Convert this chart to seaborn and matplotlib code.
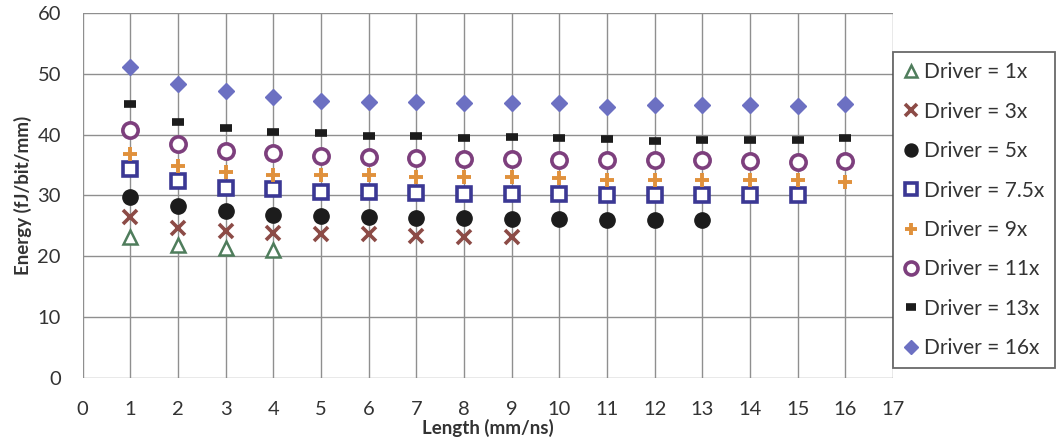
import matplotlib
matplotlib.use("Agg")
import matplotlib.pyplot as plt
import seaborn as sns
import pandas as pd

# Energy per bit per mm versus wire length, one series per driver size
drivers = ["1x", "3x", "5x", "7.5x", "9x", "11x", "13x", "16x"]

len_1x = [1, 2, 3, 4]
energy_1x = [23.2, 21.9, 21.3, 21.0]

len_3x = [1, 2, 3, 4, 5, 6, 7, 8, 9]
energy_3x = [26.5, 24.7, 24.1, 23.8, 23.6, 23.6, 23.4, 23.2, 23.2]

len_5x = [1, 2, 3, 4, 5, 6, 7, 8, 9, 10, 11, 12, 13]
energy_5x = [29.8, 28.2, 27.4, 26.8, 26.7, 26.5, 26.3, 26.3, 26.2, 26.1, 25.9, 25.9, 25.9]

len_75x = [1, 2, 3, 4, 5, 6, 7, 8, 9, 10, 11, 12, 13, 14, 15]
energy_75x = [34.4, 32.4, 31.3, 31.1, 30.6, 30.6, 30.4, 30.3, 30.3, 30.2, 30.0, 30.0, 30.0, 30.0, 30.0]

len_9x = [1, 2, 3, 4, 5, 6, 7, 8, 9, 10, 11, 12, 13, 14, 15, 16]
energy_9x = [36.9, 34.9, 33.9, 33.4, 33.4, 33.3, 33.1, 33.0, 33.0, 32.8, 32.6, 32.6, 32.6, 32.6, 32.6, 32.3]

len_11x = [1, 2, 3, 4, 5, 6, 7, 8, 9, 10, 11, 12, 13, 14, 15, 16]
energy_11x = [40.8, 38.5, 37.3, 37.0, 36.5, 36.3, 36.1, 36.0, 36.0, 35.9, 35.8, 35.8, 35.8, 35.7, 35.5, 35.7]

len_13x = [1, 2, 3, 4, 5, 6, 7, 8, 9, 10, 11, 12, 13, 14, 15, 16]
energy_13x = [45.1, 42.0, 41.1, 40.5, 40.2, 39.7, 39.7, 39.4, 39.6, 39.4, 39.3, 39.0, 39.2, 39.2, 39.1, 39.4]

len_16x = [1, 2, 3, 4, 5, 6, 7, 8, 9, 10, 11, 12, 13, 14, 15, 16]
energy_16x = [51.1, 48.3, 47.1, 46.2, 45.6, 45.4, 45.4, 45.2, 45.2, 45.2, 44.6, 44.8, 44.8, 44.9, 44.7, 45.0]

lengths = [len_1x, len_3x, len_5x, len_75x, len_9x, len_11x, len_13x, len_16x]
energies = [energy_1x, energy_3x, energy_5x, energy_75x, energy_9x, energy_11x, energy_13x, energy_16x]

df = pd.concat(
    [pd.DataFrame({"length": l, "energy": e, "driver": f"Driver = {d}"})
     for d, l, e in zip(drivers, lengths, energies)],
    ignore_index=True,
)

# marker style for each driver series
styles = {
    "1x": dict(marker="^", markersize=10, markerfacecolor="white", markeredgecolor="#4f7d5c", markeredgewidth=1.8),
    "3x": dict(marker="x", markersize=10, markeredgecolor="#8c4b46", markeredgewidth=2.6),
    "5x": dict(marker="o", markersize=11, markerfacecolor="#1c1c1c", markeredgecolor="#1c1c1c", markeredgewidth=1),
    "7.5x": dict(marker="s", markersize=10.5, markerfacecolor="white", markeredgecolor="#3b3894", markeredgewidth=2.6),
    "9x": dict(marker="+", markersize=10, markeredgecolor="#e0913c", markeredgewidth=2.8),
    "11x": dict(marker="o", markersize=11, markerfacecolor="white", markeredgecolor="#7d3f7d", markeredgewidth=2.6),
    "13x": dict(marker="_", markersize=8, markeredgecolor="#1c1c1c", markeredgewidth=5.5),
    "16x": dict(marker="D", markersize=8.5, markerfacecolor="#6c70c2", markeredgecolor="#6c70c2", markeredgewidth=1),
}

sns.set_theme(style="white")
plt.rcParams["font.family"] = ["Lato", "DejaVu Sans"]

W, H = 1061, 444
fig = plt.figure(figsize=(W / 100, H / 100), dpi=100)
ax = fig.add_axes([82.5 / W, 1 - 378 / H, (893 - 82.5) / W, (378 - 13) / H])

for d in drivers:
    sub = df[df["driver"] == f"Driver = {d}"]
    sns.lineplot(data=sub, x="length", y="energy", ax=ax, linestyle="none",
                 estimator=None, sort=False, label=f"Driver = {d}", **styles[d])

ax.set_xlim(0, 17)
ax.set_ylim(0, 60)
ax.set_xticks(range(0, 18))
ax.set_yticks(range(0, 61, 10))
ax.grid(True, color="#8f8f8f", linewidth=1.0)
for s in ax.spines.values():
    s.set_visible(False)
ax.tick_params(axis="both", which="both", length=5, width=1, color="#8f8f8f",
               labelsize=14.5, labelcolor="#333333", direction="out")
ax.tick_params(axis="x", pad=11.5)
ax.tick_params(axis="y", pad=10.5)
ax.set_xlabel("Length (mm/ns)", fontsize=13.5, fontweight="bold", color="#333333", labelpad=1)
ax.set_ylabel("Energy (fJ/bit/mm)", fontsize=13.5, fontweight="bold", color="#333333", labelpad=4)

leg = ax.legend(loc="upper left", bbox_to_anchor=(893 / W, 1 - 52 / H),
                bbox_transform=fig.transFigure, fontsize=15, frameon=True,
                fancybox=False, edgecolor="#444444", handlelength=0.7, handletextpad=0.3,
                labelspacing=0.93, borderpad=0.5, borderaxespad=0, markerscale=0.85)
leg.get_frame().set_linewidth(1.3)
for t in leg.get_texts():
    t.set_color("#333333")

fig.savefig("out.png", dpi=100)
